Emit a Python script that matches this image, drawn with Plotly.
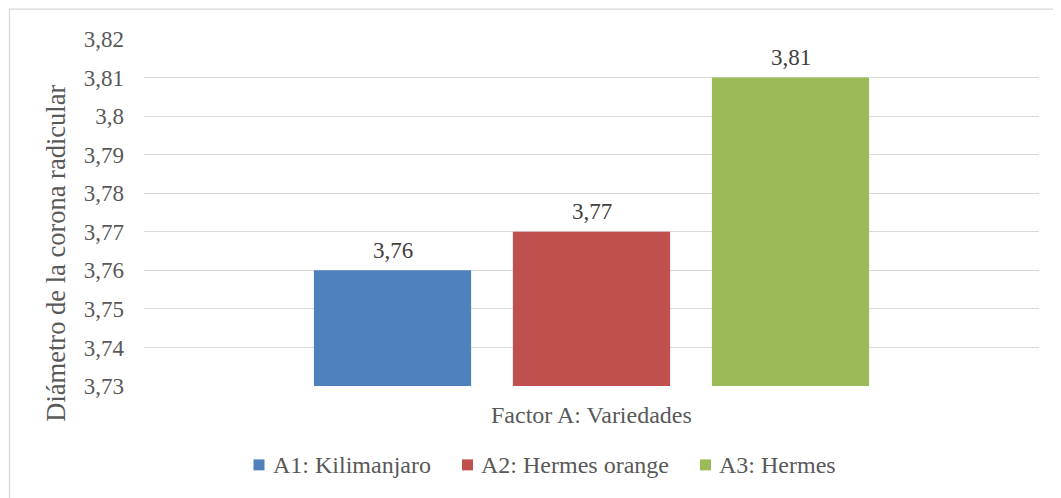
import plotly.graph_objects as go

category = ["Factor A: Variedades"]
series_names = ["A1: Kilimanjaro", "A2: Hermes orange", "A3: Hermes"]
series_values = [3.76, 3.77, 3.81]
series_labels = ["3,76", "3,77", "3,81"]
colors = ["#4F81BD", "#C0504D", "#9BBB59"]
tick_vals = [3.73, 3.74, 3.75, 3.76, 3.77, 3.78, 3.79, 3.80, 3.81, 3.82]
tick_text = ["3,73", "3,74", "3,75", "3,76", "3,77", "3,78", "3,79", "3,8", "3,81", "3,82"]
y_title = "Diámetro de la corona radicular"

FONT = "Liberation Serif"
TXT = "#595959"

# page body has an 8px margin; work in reference pixels and shift
OFF = 8
W, H = 1061 - OFF, 498 - OFF
L, R, T, B = 144 - OFF, 22, 39 - OFF, 111.5
pw, ph = W - L - R, H - T - B


def px_x(p):
    return (p - OFF - L) / pw


def px_y(p):
    return (H - B - (p - OFF)) / ph


fig = go.Figure()
for name, val, col in zip(series_names, series_values, colors):
    fig.add_trace(go.Bar(
        x=category, y=[val], name=name, marker_color=col, marker_line_width=0,
        showlegend=False, hoverinfo="name+y",
    ))

annotations = []
slot = 199  # pixel width of one bar slot within the group
for i, (val, lab) in enumerate(zip(series_values, series_labels)):
    annotations.append(dict(
        x=category[0], y=val, xref="x", yref="y", text=lab, showarrow=False,
        xanchor="center", yanchor="middle", xshift=(i - 1) * slot, yshift=20,
        font=dict(family=FONT, size=23, color="#404040"),
    ))

annotations.append(dict(text=y_title, xref="paper", yref="paper", x=px_x(56), y=px_y(254),
                        textangle=-90, showarrow=False, xanchor="center", yanchor="middle",
                        font=dict(family=FONT, size=26.5, color=TXT)))
annotations.append(dict(text=category[0], xref="paper", yref="paper", x=px_x(591.5), y=px_y(416),
                        showarrow=False, xanchor="center", yanchor="middle",
                        font=dict(family=FONT, size=24, color=TXT)))

# custom legend (swatch + text), Excel-like tight spacing
legend_swatch_x = [253.5, 462, 700]
legend_text_x = [270.5, 479, 717]
shapes = [
    dict(type="rect", xref="paper", yref="paper", x0=px_x(9.5), x1=px_x(1080),
         y0=px_y(530), y1=px_y(9), line=dict(color="#D9D9D9", width=1.3),
         fillcolor="rgba(0,0,0,0)", layer="below"),
]
for name, col, sx, tx in zip(series_names, colors, legend_swatch_x, legend_text_x):
    shapes.append(dict(type="rect", xref="paper", yref="paper",
                       x0=px_x(sx), x1=px_x(sx + 11), y0=px_y(471), y1=px_y(460),
                       fillcolor=col, line=dict(width=0)))
    annotations.append(dict(text=name, xref="paper", yref="paper", x=px_x(tx), y=px_y(466),
                            showarrow=False, xanchor="left", yanchor="middle",
                            font=dict(family=FONT, size=24, color=TXT)))

fig.update_layout(
    width=W, height=H,
    margin=dict(l=L, r=R, t=T, b=B, pad=0),
    paper_bgcolor="white", plot_bgcolor="white",
    font=dict(family=FONT, color=TXT, size=23),
    barmode="group", bargap=0.333, bargroupgap=0.21,
    showlegend=False,
    xaxis=dict(showticklabels=False, showgrid=False, zeroline=False, showline=False),
    yaxis=dict(range=[3.73, 3.82], tickvals=tick_vals, ticktext=tick_text,
               showgrid=True, gridcolor="#D9D9D9", gridwidth=1.3, zeroline=False,
               showline=False, ticks="", ticklabelstandoff=19,
               tickfont=dict(family=FONT, size=23, color=TXT)),
    annotations=annotations,
    shapes=shapes,
)

fig.write_html("out.html")
